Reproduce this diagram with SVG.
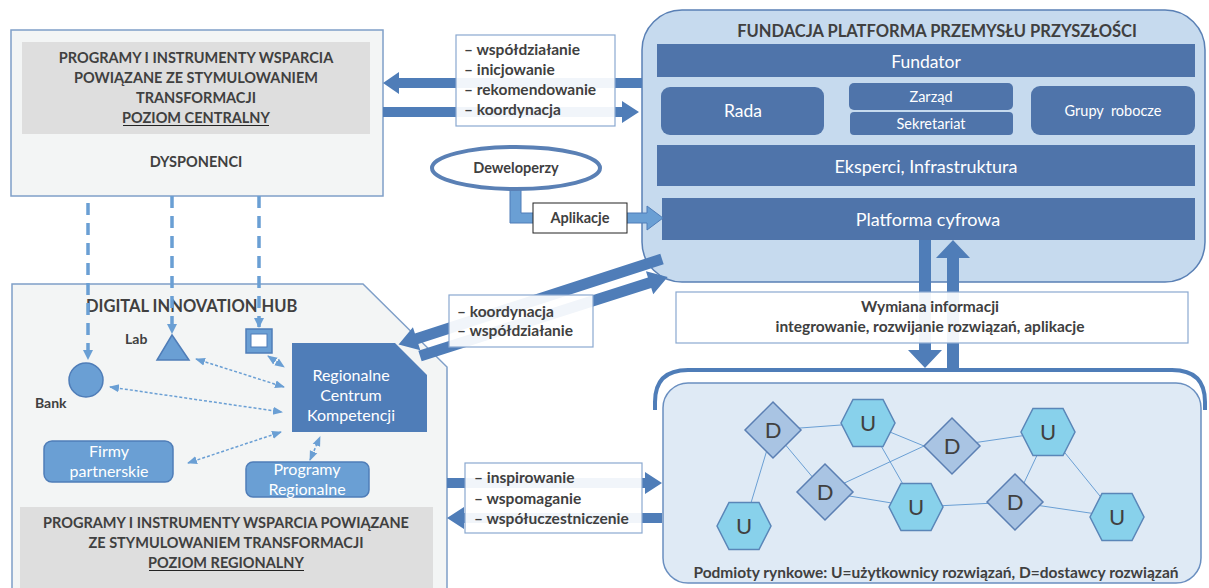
<svg xmlns="http://www.w3.org/2000/svg" xmlns:xlink="http://www.w3.org/1999/xlink" width="1209" height="588" viewBox="0 0 1209 588">
<style>
text{font-family:Lato,"Open Sans","Liberation Sans",sans-serif;fill:#404040}
.b{font-weight:bold}
.c{text-anchor:middle}
.w{fill:#ffffff}
.bar{fill:#4f74aa}
.arr{fill:#4f7db8}
.lbl{fill:#ffffff;fill-opacity:0.92;stroke:#8aa8d0;stroke-width:1.2}
.lt{font-weight:bold;font-size:15.5px}
.dash{stroke:#6a9fd4;stroke-width:3.5;stroke-dasharray:12 8;fill:none}
.dot{stroke:#6a9fd4;stroke-width:1.5;stroke-dasharray:3 2;fill:none}
.net{stroke:#6a9fd4;stroke-width:1;fill:none}
.hex{fill:#88d1eb;stroke:#5a86b8;stroke-width:1.5}
.dia{fill:#a9c4e3;stroke:#5b7fb3;stroke-width:1.5}
.nt{font-size:22px;text-anchor:middle}
</style>
<defs>
<marker id="ah" markerWidth="10" markerHeight="10" refX="9" refY="5" orient="auto" markerUnits="userSpaceOnUse">
<path d="M0,0 L10,5 L0,10 Z" fill="#6a9fd4"/>
</marker>
<marker id="sm" markerWidth="10" markerHeight="10" refX="9" refY="5" orient="auto-start-reverse" markerUnits="userSpaceOnUse">
<path d="M0,1 L10,5 L0,9 Z" fill="#6a9fd4"/>
</marker>
<polygon id="hex" points="-27,0 -15,-23.5 15,-23.5 27,0 15,23.5 -15,23.5"/>
<polygon id="dia" points="0,-28 28,0 0,28 -28,0"/>
</defs>

<!-- Right panel: Fundacja -->
<g id="fundacja">
<rect x="642" y="10" width="563" height="272" rx="40" fill="#c6daee" stroke="#5a80b5" stroke-width="1.5"/>
<text x="937" y="37" class="b c" font-size="16.5">FUNDACJA PLATFORMA PRZEMYSŁU PRZYSZŁOŚCI</text>
</g>
<g id="fundator"><rect x="657" y="44" width="538" height="33" class="bar"/><text x="926" y="68" class="c w" font-size="17.5">Fundator</text></g>
<g id="rada"><rect x="661" y="87" width="163" height="48" rx="9" class="bar"/><text x="743" y="117" class="c w" font-size="17.5">Rada</text></g>
<g id="zarzad"><rect x="849" y="83" width="164" height="27" rx="5" class="bar"/><text x="931" y="102" class="c w" font-size="14.5">Zarząd</text></g>
<g id="sekretariat"><rect x="850" y="112" width="163" height="23" rx="4" class="bar"/><text x="931" y="129" class="c w" font-size="14.5">Sekretariat</text></g>
<g id="grupy"><rect x="1031" y="86" width="164" height="49" rx="9" class="bar"/><text x="1113" y="116" class="c w" font-size="14.5" xml:space="preserve">Grupy  robocze</text></g>
<g id="eksperci"><rect x="657" y="145" width="538" height="41" class="bar"/><text x="926" y="173" class="c w" font-size="18">Eksperci, Infrastruktura</text></g>
<g id="platforma"><rect x="662" y="198" width="533" height="42" class="bar"/><text x="928" y="226" class="c w" font-size="18">Platforma cyfrowa</text></g>

<!-- Top-left box -->
<g id="centralny">
<rect x="11" y="30" width="372" height="166" fill="#f3f5f5" stroke="#7f9fc8" stroke-width="1.5"/>
<rect x="22" y="42" width="348" height="92" fill="#dedede"/>
<text x="196" y="63" class="b c" font-size="14.5">PROGRAMY I INSTRUMENTY WSPARCIA</text>
<text x="196" y="83" class="b c" font-size="14.5">POWIĄZANE ZE STYMULOWANIEM</text>
<text x="196" y="103" class="b c" font-size="14.5">TRANSFORMACJI</text>
<text x="196" y="123" class="b c" font-size="14.5">POZIOM CENTRALNY</text>
<line x1="123" y1="125.5" x2="269" y2="125.5" stroke="#222" stroke-width="1.2"/>
<text x="196" y="167" class="b c" font-size="14.5">DYSPONENCI</text>
</g>

<!-- DIH box -->
<g id="dih">
<path d="M12,284 L363,284 L447,367 L447,592 L12,592 Z" fill="#f3f5f5" stroke="#7f9fc8" stroke-width="1.5"/>
<text x="86" y="312" class="b" font-size="16.5">DIGITAL INNOVATION HUB</text>
</g>
<g id="regionalny">
<rect x="20" y="507" width="413" height="85" fill="#dedede"/>
<text x="226" y="528" class="b c" font-size="14.5">PROGRAMY I INSTRUMENTY WSPARCIA POWIĄZANE</text>
<text x="226" y="548" class="b c" font-size="14.5">ZE STYMULOWANIEM TRANSFORMACJI</text>
<text x="226" y="568" class="b c" font-size="14.5">POZIOM REGIONALNY</text>
<line x1="149" y1="570.5" x2="304" y2="570.5" stroke="#222" stroke-width="1.2"/>
</g>

<!-- Connectors -->
<g id="connectors">
<line x1="88" y1="203" x2="88" y2="359" class="dash" marker-end="url(#ah)"/>
<line x1="172" y1="196" x2="172" y2="333" class="dash" marker-end="url(#ah)"/>
<line x1="259" y1="196" x2="259" y2="327" class="dash" marker-end="url(#ah)"/>
<line x1="268" y1="356" x2="284" y2="367" class="dot" marker-start="url(#sm)" marker-end="url(#sm)"/>
<line x1="196" y1="359" x2="284" y2="387" class="dot" marker-start="url(#sm)" marker-end="url(#sm)"/>
<line x1="110" y1="387" x2="282" y2="412" class="dot" marker-start="url(#sm)" marker-end="url(#sm)"/>
<line x1="188" y1="463" x2="281" y2="432" class="dot" marker-start="url(#sm)" marker-end="url(#sm)"/>
<line x1="310" y1="460" x2="320" y2="437" class="dot" marker-start="url(#sm)" marker-end="url(#sm)"/>
<polygon class="arr" points="642,78 399,78 399,72 383,83 399,94 399,88 642,88"/>
<polygon class="arr" points="383,107 622,107 622,101 639,112 622,123 622,117 383,117"/>
<path class="arr" transform="translate(662,259) rotate(162)" d="M0,-5.5 L258,-5.5 L258,-12 L277,0 L258,12 L258,5.5 L0,5.5 Z"/>
<path class="arr" transform="translate(420,356) rotate(-17.7)" d="M0,-5.5 L241,-5.5 L241,-12 L260,0 L241,12 L241,5.5 L0,5.5 Z"/>
<polygon points="510,188 521,188 521,213 647,213 647,206 663,218 647,230 647,223 510,223" fill="#6a9fd4" stroke="#4f7db8" stroke-width="1"/>
<polygon class="arr" points="919,240 931,240 931,350 942,350 925,368 908,350 919,350"/>
<polygon class="arr" points="947,368 959,368 959,258 970,258 953,240 936,258 947,258"/>
<polygon class="arr" points="447,478 645,478 645,472 662,483 645,494 645,488 447,488"/>
<polygon class="arr" points="662,513 464,513 464,507 447,518 464,529 464,523 662,523"/>
</g>

<!-- Label boxes -->
<g id="lbl-central">
<rect x="456" y="35" width="159" height="91" class="lbl"/>
<text x="464" y="55" class="lt">– współdziałanie</text>
<text x="464" y="75" class="lt">– inicjowanie</text>
<text x="464" y="95" class="lt">– rekomendowanie</text>
<text x="464" y="115" class="lt">– koordynacja</text>
</g>
<g id="lbl-dih">
<rect x="449" y="295" width="144" height="52" class="lbl"/>
<text x="457" y="317" class="lt">– koordynacja</text>
<text x="457" y="336" class="lt">– współdziałanie</text>
</g>
<g id="lbl-wymiana">
<rect x="676" y="292" width="512" height="51" class="lbl"/>
<text x="930" y="312" class="b c" font-size="15.5">Wymiana informacji</text>
<text x="930" y="332" class="b c" font-size="15.5">integrowanie, rozwijanie rozwiązań, aplikacje</text>
</g>
<g id="lbl-podmioty">
<rect x="465" y="463" width="177" height="70" class="lbl"/>
<text x="474" y="483" class="lt">– inspirowanie</text>
<text x="474" y="504" class="lt">– wspomaganie</text>
<text x="474" y="524" class="lt">– współuczestniczenie</text>
</g>

<!-- Deweloperzy -->
<g id="deweloperzy">
<ellipse cx="516" cy="168" rx="84" ry="21" fill="#ffffff" stroke="#5a80b5" stroke-width="4"/>
<text x="516" y="173" class="b c" font-size="14.5">Deweloperzy</text>
</g>
<g id="aplikacje">
<rect x="533" y="203" width="94" height="30" fill="#ffffff" stroke="#222" stroke-width="1"/>
<text x="580" y="223" class="b c" font-size="14.5">Aplikacje</text>
</g>

<!-- DIH inner nodes -->
<g id="bank"><circle cx="86" cy="380" r="17" fill="#6a9fd4" stroke="#4f7db8" stroke-width="1.5"/><text x="35" y="408" class="b" font-size="14">Bank</text></g>
<g id="lab"><polygon points="172,335 157,360 189,360" fill="#6a9fd4" stroke="#4f7db8" stroke-width="1.5"/><text x="125" y="344" class="b" font-size="14">Lab</text></g>
<g id="kwadrat"><rect x="246" y="329" width="26" height="24" fill="#6a9fd4" stroke="#4f7db8" stroke-width="1.5"/><rect x="251" y="334" width="16" height="13" fill="#ffffff" stroke="#4f7db8" stroke-width="1"/></g>
<g id="rck">
<path d="M292,343 L395,343 L427,375 L427,432 L292,432 Z" fill="#4f7db8"/>
<text x="351" y="381" class="c w" font-size="16">Regionalne</text>
<text x="351" y="401" class="c w" font-size="16">Centrum</text>
<text x="351" y="421" class="c w" font-size="16">Kompetencji</text>
</g>
<g id="firmy">
<rect x="44" y="441" width="129" height="41" rx="8" fill="#6a9fd4" stroke="#4f7db8" stroke-width="1.5"/>
<text x="109" y="457" class="c w" font-size="16">Firmy</text>
<text x="109" y="477" class="c w" font-size="16">partnerskie</text>
</g>
<g id="programy">
<rect x="246" y="462" width="123" height="35" rx="7" fill="#6a9fd4" stroke="#4f7db8" stroke-width="1.5"/>
<text x="307" y="475" class="c w" font-size="16">Programy</text>
<text x="307" y="495" class="c w" font-size="16">Regionalne</text>
</g>

<!-- Podmioty rynkowe panel -->
<g id="podmioty">
<path d="M655,410 L655,402 Q655,370 688,370 L1172,370 Q1205,370 1205,402 L1205,410" fill="none" stroke="#4f7db8" stroke-width="4"/>
<rect x="663" y="383" width="538" height="200" rx="25" fill="#dfeaf5" stroke="#6a8fc0" stroke-width="1.5"/>
<text x="936" y="578" class="b c" font-size="15.5">Podmioty rynkowe: U=użytkownicy rozwiązań, D=dostawcy rozwiązań</text>
</g>
<g id="network-edges">
<line x1="773" y1="430" x2="868" y2="423" class="net"/>
<line x1="773" y1="430" x2="744" y2="526" class="net"/>
<line x1="773" y1="430" x2="825" y2="492" class="net"/>
<line x1="868" y1="423" x2="924" y2="446" class="net"/>
<line x1="868" y1="423" x2="916" y2="507" class="net"/>
<line x1="825" y1="492" x2="924" y2="446" class="net"/>
<line x1="825" y1="492" x2="916" y2="507" class="net"/>
<line x1="916" y1="507" x2="1015" y2="502" class="net"/>
<line x1="952" y1="446" x2="1048" y2="432" class="net"/>
<line x1="1048" y1="432" x2="1015" y2="502" class="net"/>
<line x1="1048" y1="432" x2="1117" y2="517" class="net"/>
<line x1="1015" y1="502" x2="1117" y2="517" class="net"/>
</g>
<g id="d1"><use xlink:href="#dia" class="dia" x="773" y="430"/><text x="773" y="438" class="nt">D</text></g>
<g id="u1"><use xlink:href="#hex" class="hex" x="868" y="423"/><text x="868" y="431" class="nt">U</text></g>
<g id="d2"><use xlink:href="#dia" class="dia" x="952" y="446"/><text x="952" y="454" class="nt">D</text></g>
<g id="u2"><use xlink:href="#hex" class="hex" x="1048" y="432"/><text x="1048" y="440" class="nt">U</text></g>
<g id="d3"><use xlink:href="#dia" class="dia" x="825" y="492"/><text x="825" y="500" class="nt">D</text></g>
<g id="u3"><use xlink:href="#hex" class="hex" x="916" y="507"/><text x="916" y="515" class="nt">U</text></g>
<g id="d4"><use xlink:href="#dia" class="dia" x="1015" y="502"/><text x="1015" y="510" class="nt">D</text></g>
<g id="u4"><use xlink:href="#hex" class="hex" x="744" y="526"/><text x="744" y="534" class="nt">U</text></g>
<g id="u5"><use xlink:href="#hex" class="hex" x="1117" y="517"/><text x="1117" y="525" class="nt">U</text></g>
</svg>
